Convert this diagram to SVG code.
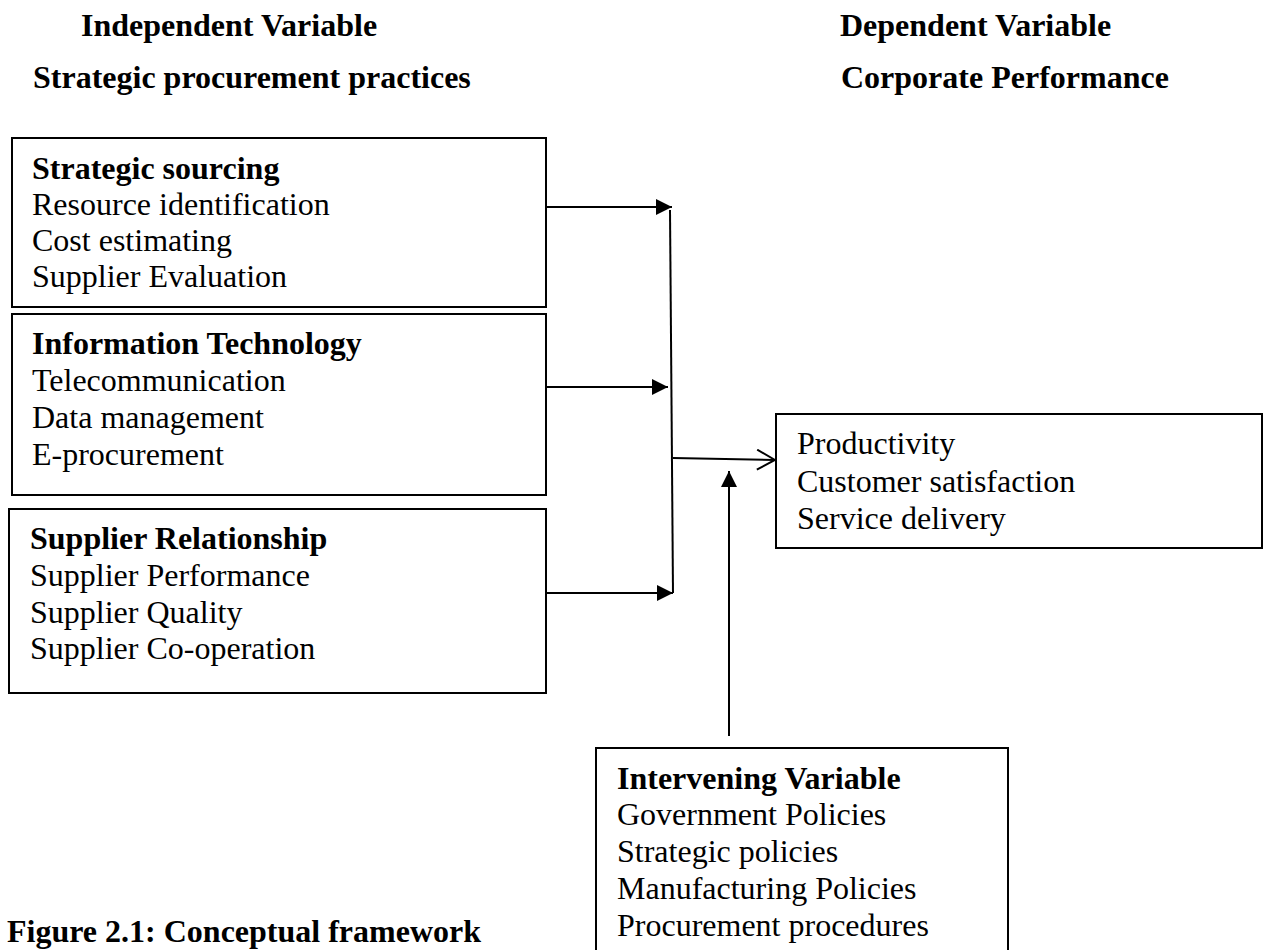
<svg xmlns="http://www.w3.org/2000/svg" width="1264" height="950" viewBox="0 0 1264 950">
<defs>
<style>
text{font-family:"Liberation Serif","Times New Roman",serif;font-size:32px;fill:#000}
.b{font-weight:bold}
.box{fill:#fff;stroke:#000;stroke-width:2}
.ln{fill:none;stroke:#000;stroke-width:2}
</style>
<marker id="tri" viewBox="0 0 16 16" refX="16" refY="8" markerWidth="16" markerHeight="16" markerUnits="userSpaceOnUse" orient="auto">
<path d="M0,0 L16,8 L0,16 Z" fill="#000"/>
</marker>
<marker id="open" viewBox="0 0 20 22" refX="19" refY="11" markerWidth="20" markerHeight="22" markerUnits="userSpaceOnUse" orient="auto">
<path d="M1,1 L19,11 L1,21" fill="none" stroke="#000" stroke-width="2"/>
</marker>
</defs>
<rect width="1264" height="950" fill="#fff"/>
<g id="headings">
<text class="b" x="81" y="36">Independent Variable</text>
<text class="b" x="33" y="88">Strategic procurement practices</text>
<text class="b" x="840" y="36">Dependent Variable</text>
<text class="b" x="841" y="88">Corporate Performance</text>
</g>
<g id="strategic-sourcing">
<rect class="box" x="12" y="138" width="534" height="169"/>
<text class="b" x="32" y="179">Strategic sourcing</text>
<text x="32" y="215">Resource identification</text>
<text x="32" y="251">Cost estimating</text>
<text x="32" y="287">Supplier Evaluation</text>
</g>
<g id="information-technology">
<rect class="box" x="12" y="314" width="534" height="181"/>
<text class="b" x="32" y="354">Information Technology</text>
<text x="32" y="391">Telecommunication</text>
<text x="32" y="428">Data management</text>
<text x="32" y="465">E-procurement</text>
</g>
<g id="supplier-relationship">
<rect class="box" x="9" y="509" width="537" height="184"/>
<text class="b" x="30" y="549">Supplier Relationship</text>
<text x="30" y="586">Supplier Performance</text>
<text x="30" y="623">Supplier Quality</text>
<text x="30" y="659">Supplier Co-operation</text>
</g>
<g id="corporate-performance">
<rect class="box" x="776" y="414" width="486" height="134"/>
<text x="797" y="454">Productivity</text>
<text x="797" y="492">Customer satisfaction</text>
<text x="797" y="529">Service delivery</text>
</g>
<g id="intervening-variable">
<rect class="box" x="596" y="748" width="412" height="220"/>
<text class="b" x="617" y="789">Intervening Variable</text>
<text x="617" y="825">Government Policies</text>
<text x="617" y="862">Strategic policies</text>
<text x="617" y="899">Manufacturing Policies</text>
<text x="617" y="936">Procurement procedures</text>
</g>
<g id="caption">
<text class="b" x="7" y="942">Figure 2.1: Conceptual framework</text>
</g>
<g id="connectors">
<line class="ln" x1="547" y1="207" x2="672" y2="207" marker-end="url(#tri)"/>
<line class="ln" x1="547" y1="387" x2="668" y2="387" marker-end="url(#tri)"/>
<line class="ln" x1="547" y1="593" x2="673" y2="593" marker-end="url(#tri)"/>
<line class="ln" x1="670" y1="210" x2="673" y2="593"/>
<line class="ln" x1="673" y1="458" x2="775" y2="460" marker-end="url(#open)"/>
<line class="ln" x1="729" y1="736" x2="729" y2="471" marker-end="url(#tri)"/>
</g>
</svg>
